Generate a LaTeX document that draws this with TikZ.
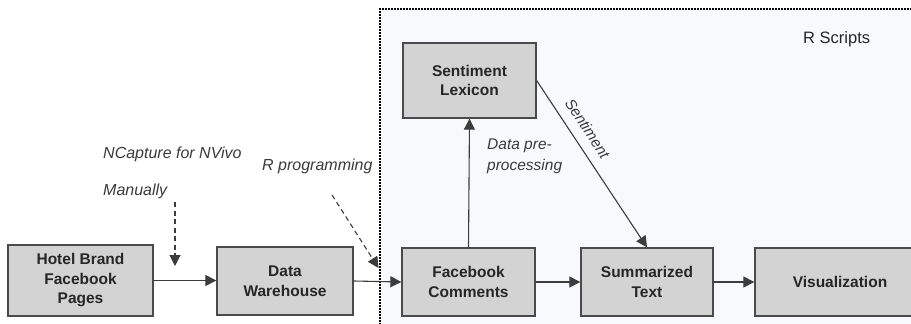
\documentclass[tikz,border=0pt]{standalone}
\usepackage{fontspec}
\setmainfont{Liberation Sans}
\usetikzlibrary{arrows.meta}
\definecolor{boxfill}{HTML}{D3D3D3}
\definecolor{boxline}{HTML}{4A4A4A}
\definecolor{arrowcol}{HTML}{3C3C3C}
\definecolor{txtcol}{HTML}{262626}
\definecolor{lblcol}{HTML}{3A3A3A}
\definecolor{regionfill}{HTML}{F7F9FC}
\tikzset{
  procbox/.style={draw=boxline, line width=1.3pt, fill=boxfill, inner sep=0pt,
    align=center, text=txtcol, font=\fontsize{15.5}{19.5}\selectfont\bfseries},
  flow/.style={draw=arrowcol, line width=1.1pt, -{Triangle[length=11pt,width=11pt]}},
  dflow/.style={flow, dash pattern=on 5pt off 3.5pt},
  lbl/.style={text=lblcol, inner sep=0pt, font=\fontsize{16}{21}\selectfont\itshape},
}
\begin{document}
\begin{tikzpicture}[x=1pt,y=-1pt]
\useasboundingbox (0,0) rectangle (911,324);
% R scripts region
\fill[regionfill] (380,9) rectangle (930,340);
\draw[black, line width=1.6pt, dash pattern=on 1.6pt off 1.4pt] (380,340) -- (380,9) -- (930,9);
\node[anchor=base west, inner sep=0pt, text=txtcol, font=\fontsize{16.5}{20}\selectfont] (rs) at (803,43) {R Scripts};

% boxes
\node[procbox, minimum width=145pt, minimum height=71pt] (hotel) at (80.5,280.5) {Hotel Brand\\Facebook\\Pages};
\node[procbox, minimum width=136pt, minimum height=68pt] (dw) at (285,281) {Data\\Warehouse};
\node[procbox, minimum width=133pt, minimum height=68pt] (fc) at (468.5,282) {Facebook\\Comments};
\node[procbox, minimum width=132pt, minimum height=68pt] (st) at (647,282) {Summarized\\Text};
\node[procbox, minimum width=170pt, minimum height=68pt, text width=136pt] (vis) at (840,282) {Visualization};
\node[procbox, minimum width=133pt, minimum height=75pt] (lex) at (469.5,80.5) {Sentiment\\Lexicon};

% labels
\node[lbl, anchor=base west] (ncap) at (103,158) {NCapture for NVivo};
\node[lbl, anchor=base west] (man) at (103,195) {Manually};
\node[lbl, anchor=base west] (rprog) at (262,170) {R programming};
\node[lbl, anchor=base west, align=left, font=\fontsize{15.5}{21}\selectfont\itshape] (dpp) at (487,170) {Data pre-\\processing};

% coordinates for dashed arrows
\coordinate (m1) at (175,202);
\coordinate (m2) at (175,266);
\coordinate (r1) at (332,195);
\coordinate (r2) at (378.5,268);

% connectors
\draw[flow] (hotel.east) -- (dw.west |- hotel.east);
\draw[flow] (dw.east) -- (fc.west);
\draw[flow] (fc.east) -- (st.west);
\draw[flow] (st.east) -- (vis.west);
\draw[flow] (fc.north) -- (lex.south);
\draw[flow] (lex.east) -- node[pos=0.34, sloped, above=10pt, inner sep=0pt, text=lblcol,
   font=\fontsize{15}{18}\selectfont\itshape] {Sentiment} (st.north);
\draw[dflow] (m1) -- (m2);
\draw[dflow] (r1) -- (r2);
\end{tikzpicture}
\end{document}
